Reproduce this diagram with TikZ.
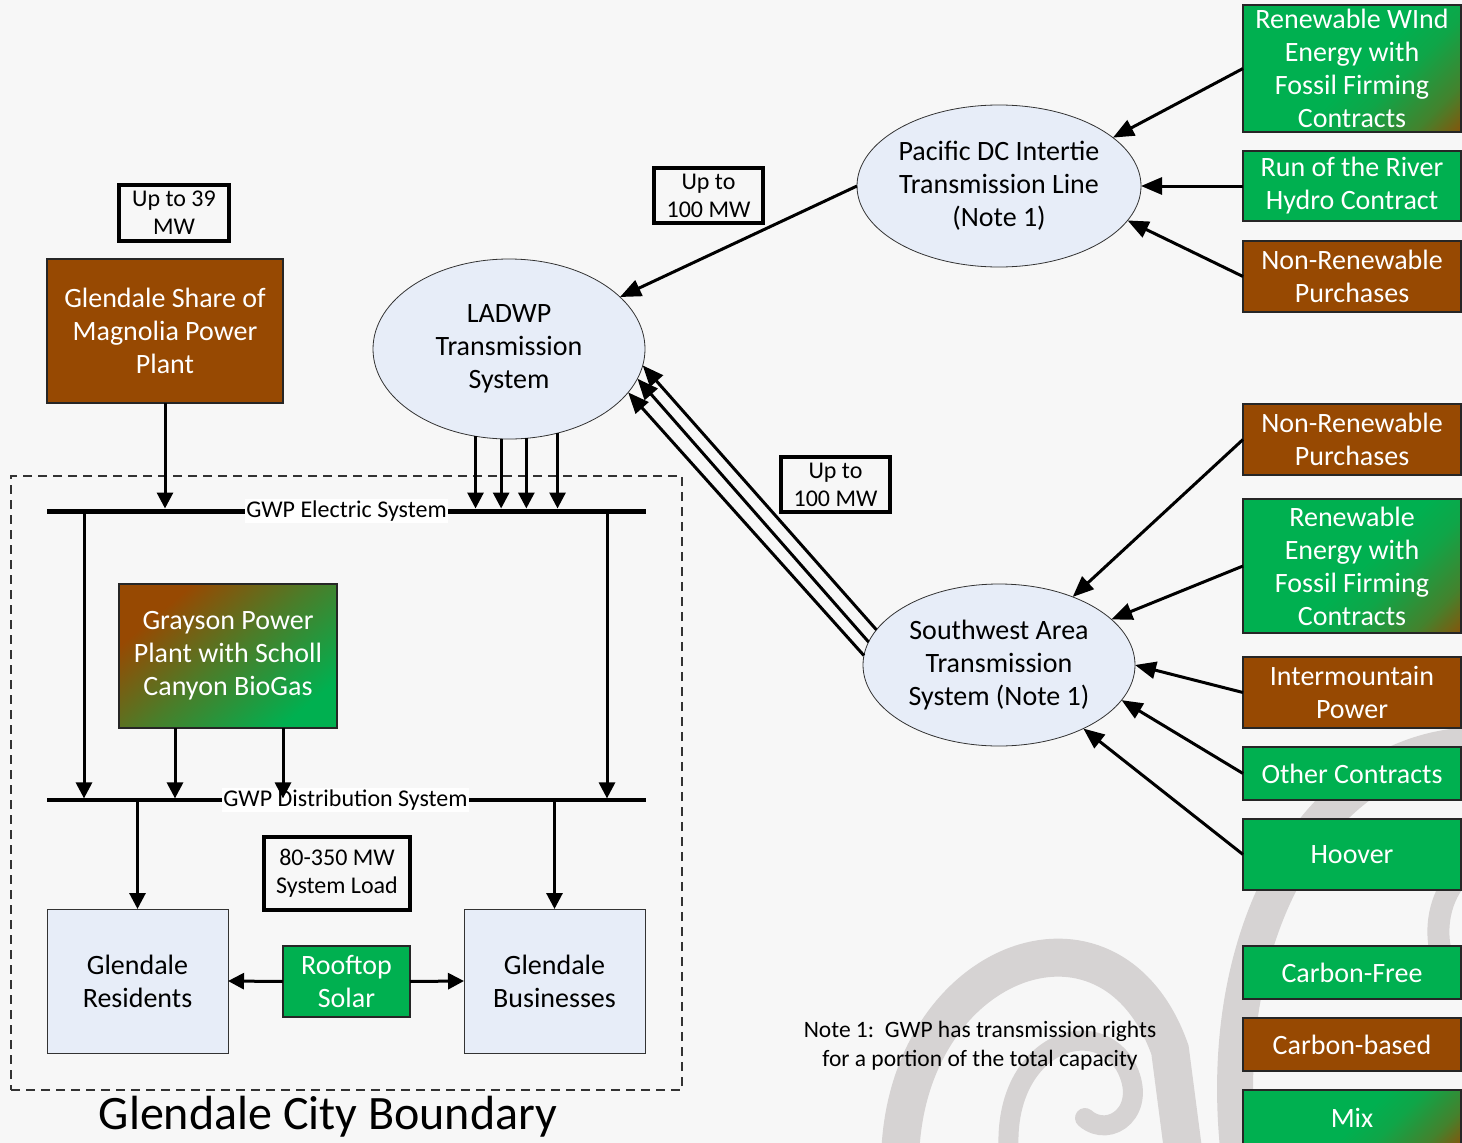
\documentclass[tikz,border=0pt]{standalone}
\usepackage{fontspec}
\setmainfont{Carlito}
\usetikzlibrary{arrows.meta,shapes.geometric,calc}
\definecolor{bgc}{HTML}{F7F7F7}
\definecolor{grn}{HTML}{00B050}
\definecolor{brn}{RGB}{151,73,2}
\definecolor{lblue}{HTML}{E7EDF8}
\definecolor{swirlc}{HTML}{D6D3D3}
\pgfdeclareverticalshading{greenbrown}{100bp}{color(0bp)=(brn); color(12bp)=(brn); color(24bp)=(grn!55!brn); color(38bp)=(grn!90!brn); color(48bp)=(grn); color(100bp)=(grn)}
\pgfdeclareverticalshading{browngreen}{100bp}{color(0bp)=(grn); color(25bp)=(grn); color(50bp)=(grn!50!brn); color(72bp)=(brn); color(100bp)=(brn)}
\begin{document}
\begin{tikzpicture}[x=1pt,y=-1pt,
  every node/.style={inner sep=0pt, outer sep=0pt},
  txt/.style={font=\fontsize{28}{33}\selectfont, align=center},
  stxt/.style={font=\fontsize{24}{28}\selectfont, align=center},
  colbox/.style={txt, draw=black!85, line width=1.2pt, text=white},
  gbox/.style={colbox, fill=grn},
  bbox/.style={colbox, fill=brn},
  mbox/.style={colbox, shading=greenbrown, shading angle=45},
  rbox/.style={colbox, shading=browngreen, shading angle=40},
  ell/.style={ellipse, draw=black!80, line width=0.8pt, fill=lblue, txt},
  lbox/.style={draw=black!80, fill=lblue, line width=0.8pt, txt},
  mwbox/.style={draw=black, line width=3.8pt, stxt},
  buslabel/.style={fill=white, font=\fontsize{24}{28}\selectfont, inner xsep=1pt, inner ysep=2pt},
  arr/.style={-{Triangle[length=21pt,width=17pt]}, line width=3pt},
  sarr/.style={-{Triangle[length=16pt,width=16pt]}, line width=3pt},
  swirl/.style={draw=swirlc, line cap=round}
]
\useasboundingbox (0,0) rectangle (1462,1143);
\fill[bgc] (0,0) rectangle (1462,1143);

% background swirls
\draw[swirl, line width=38pt] (900,1165) .. controls (900,960) and (1110,880) .. (1170,1050) -- (1185,1165);
\draw[swirl, line width=20pt] (1010,1165) .. controls (995,1050) and (1090,1010) .. (1125,1065) .. controls (1150,1110) and (1110,1140) .. (1085,1118);
\draw[swirl, line width=36pt] (1240,1165) .. controls (1210,930) and (1320,745) .. (1480,745);
\draw[swirl, line width=22pt] (1480,860) .. controls (1440,880) and (1430,930) .. (1445,965);

% city boundary
\node[draw=black!80, dashed, dash pattern=on 9pt off 6pt, line width=1.2pt, minimum width=671, minimum height=614] (boundary) at (346.5,783) {};
\node[font=\fontsize{48}{56}\selectfont] (title) at (328,1117) {Glendale City Boundary};

% left side nodes
\node[mwbox, minimum width=110, minimum height=56] (up39) at (174,213) {Up to 39\\MW};
\node[bbox, minimum width=236, minimum height=144] (magnolia) at (165,331) {Glendale Share of\\Magnolia Power\\Plant};
\node[rbox, minimum width=218, minimum height=144] (grayson) at (228,656) {Grayson Power\\Plant with Scholl\\Canyon BioGas};
\node[mwbox, minimum width=146, minimum height=73] (load) at (337,873.5) {80-350 MW\\System Load};
\node[lbox, minimum width=181, minimum height=144] (residents) at (137.5,981) {Glendale\\Residents};
\node[gbox, minimum width=127, minimum height=71] (rooftop) at (346.5,981.5) {Rooftop\\Solar};
\node[lbox, minimum width=181, minimum height=144] (businesses) at (554.5,981) {Glendale\\Businesses};

% buses
\node[fill=black, minimum width=599, minimum height=5] (ebus) at (346.5,511) {};
\node[fill=black, minimum width=599, minimum height=3.2] (dbus) at (346.5,800) {};
\node[buslabel] (elabel) at (346.5,511) {GWP Electric System};
\node[buslabel] (dlabel) at (345.5,800) {GWP Distribution System};

% transmission
\node[ell, minimum width=272, minimum height=180] (ladwp) at (509,349) {LADWP\\Transmission\\System};
\node[ell, minimum width=272, minimum height=162] (pacific) at (999,186) {Pacific DC Intertie\\Transmission Line\\(Note 1)};
\node[ell, minimum width=272, minimum height=162] (sw) at (999,665) {Southwest Area\\Transmission\\System (Note 1)};
\node[mwbox, minimum width=109, minimum height=55] (upa) at (708.5,195.5) {Up to\\100 MW};
\node[mwbox, minimum width=109, minimum height=55] (upb) at (835.5,484.5) {Up to\\100 MW};

% right sources
\node[mbox, minimum width=218, minimum height=127] (wind) at (1352,68.5) {Renewable WInd\\Energy with\\Fossil Firming\\Contracts};
\node[gbox, minimum width=218, minimum height=70] (hydro) at (1352,186) {Run of the River\\Hydro Contract};
\node[bbox, minimum width=218, minimum height=71] (nonrena) at (1352,276.5) {Non-Renewable\\Purchases};
\node[bbox, minimum width=218, minimum height=71] (nonrenb) at (1352,439.5) {Non-Renewable\\Purchases};
\node[mbox, minimum width=218, minimum height=134] (renew) at (1352,566) {Renewable\\Energy with\\Fossil Firming\\Contracts};
\node[bbox, minimum width=218, minimum height=71] (inter) at (1352,692.5) {Intermountain\\Power};
\node[gbox, minimum width=218, minimum height=53] (other) at (1352,773.5) {Other Contracts};
\node[gbox, minimum width=218, minimum height=71] (hoover) at (1352,854.5) {Hoover};
\node[gbox, minimum width=218, minimum height=53] (cfree) at (1352,972.5) {Carbon-Free};
\node[bbox, minimum width=218, minimum height=53] (cbased) at (1352,1044.5) {Carbon-based};
\node[mbox, minimum width=218, minimum height=56] (mix) at (1352,1118) {Mix};

% note
\node[stxt, font=\fontsize{23.5}{29}\selectfont] (note) at (980,1046) {Note 1:\ \ GWP has transmission rights\\for a portion of the total capacity};

% connectors
\draw[sarr] (magnolia.south) -- (magnolia.south |- ebus.north);
\draw[sarr] (ladwp.249) -- (ladwp.249 |- ebus.north);
\draw[sarr] (ladwp.265) -- (ladwp.265 |- ebus.north);
\draw[sarr] (ladwp.281) -- (ladwp.281 |- ebus.north);
\draw[sarr] (ladwp.300) -- (ladwp.300 |- ebus.north);
\draw[sarr] ([xshift=-262.5pt]ebus.south) -- ([xshift=-262.5pt]ebus.south |- dbus.north);
\draw[sarr] ([xshift=260.5pt]ebus.south) -- ([xshift=260.5pt]ebus.south |- dbus.north);
\draw[sarr] ([xshift=-53pt]grayson.south) -- ([xshift=-53pt]grayson.south |- dbus.north);
\draw[sarr] ([xshift=55pt]grayson.south) -- ([xshift=55pt]grayson.south |- dbus.north);
\draw[sarr] (residents.north |- dbus.south) -- (residents.north);
\draw[sarr] (businesses.north |- dbus.south) -- (businesses.north);
\draw[sarr] (rooftop.west) -- (residents.east);
\draw[sarr] (rooftop.east) -- (businesses.west);

\draw[arr] (pacific.west) -- (ladwp);
\draw[arr] (wind.west) -- (pacific.23);
\draw[arr] (hydro.west) -- (pacific.east);
\draw[arr] (nonrena.west) -- (pacific.-15);

\draw[arr] (sw.164) -- (ladwp.-7);
\draw[arr] (sw.170) -- (ladwp.-13);
\draw[arr] (sw.176) -- (ladwp.-20);

\draw[arr] (nonrenb.west) -- (sw);
\draw[arr] (renew.west) -- (sw);
\draw[arr] (inter.west) -- (sw.east);
\draw[arr] (other.west) -- (sw.-16);
\draw[arr] (hoover.west) -- (sw.-37);
\end{tikzpicture}
\end{document}
